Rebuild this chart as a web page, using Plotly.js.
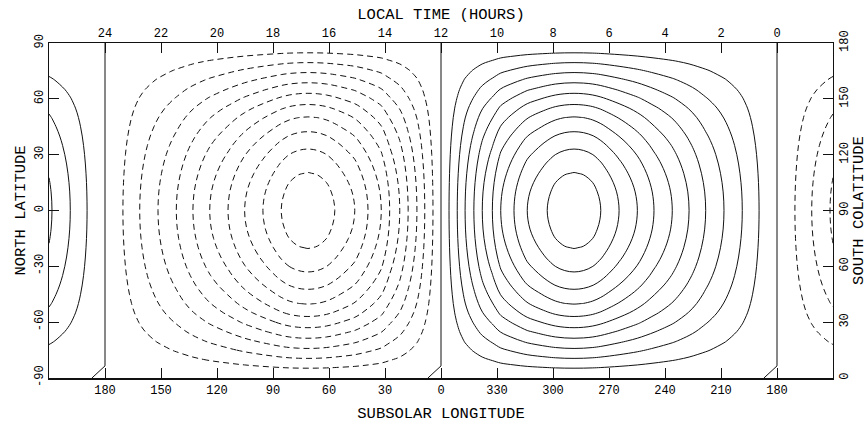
<!DOCTYPE html>
<html><head><meta charset="utf-8">
<script src="https://cdn.plot.ly/plotly-3.0.1.min.js"></script>
<style>html,body{margin:0;padding:0;background:#fff}#chart{width:868px;height:424px}</style>
</head><body><div id="chart"></div>
<script>
// Position along the plotted longitude axis, in degrees from the left edge
// (30 -> subsolar longitude 180, 210 -> longitude 0 / local noon, 390 -> longitude 180)
const axisPos = [0, 1.6, 11.4, 20.4, 30,
  39.6, 48.6, 58.4, 68.2, 77.1, 86.1, 95.9, 104.8, 114.6, 124.4, 128.7, 133.7, 138.7, 143.7, 148.7,
  153.1, 163.8, 170.9, 178, 182.5, 187.9, 192.4, 197.1, 201.3, 205.7, 210,
  214.3, 218.7, 222.9, 227.6, 232.1, 237.5, 242, 249.1, 256.2, 266.9, 271.3, 276.3, 281.3, 286.3, 291.3,
  295.6, 305.4, 315.2, 324.1, 333.9, 342.9, 351.8, 361.6, 371.4, 380.4, 390,
  399.6, 408.6, 418.4, 420];
// Contoured quantity along the equator (contour interval 1)
const equatorValue = [3.15, 3, 2, 1, 0,
  -1, -2, -3, -4, -5, -6, -7, -8, -9, -10, -10.35, -10.59, -10.67, -10.59, -10.35,
  -10, -9, -8, -7, -6, -5, -4, -3, -2, -1, 0,
  1, 2, 3, 4, 5, 6, 7, 8, 9, 10, 10.35, 10.59, 10.67, 10.59, 10.35,
  10, 9, 8, 7, 6, 5, 4, 3, 2, 1, 0,
  -1, -2, -3, -3.15];
const latitudes = [-90,-85,-80,-75,-70,-65,-60,-55,-50,-45,-40,-35,-30,-25,-20,-15,-10,-5,0,
  5,10,15,20,25,30,35,40,45,50,55,60,65,70,75,80,85,90];
// Relative strength of the pattern at each latitude (1 at the equator)
const latitudeFactor = [0,0.089,0.178,0.266,0.352,0.436,0.516,0.592,0.660,0.720,0.776,0.826,0.870,0.908,0.940,0.966,0.985,0.996,1,
  0.996,0.985,0.966,0.940,0.908,0.870,0.826,0.776,0.720,0.660,0.592,0.516,0.436,0.352,0.266,0.178,0.089,0];

const lonTickPos = [30,60,90,120,150,180,210,240,270,300,330,360,390];
const lonTickText = ["180","150","120","90","60","30","0","330","300","270","240","210","180"];
const localTimeText = ["24","22","20","18","16","14","12","10","8","6","4","2","0"];
const latTicks = [-90,-60,-30,0,30,60,90];
const colatTicks = [0,30,60,90,120,150,180];
// zero contour: meridians of subsolar longitude 180 / 0 / 180, with its small kink at the south pole
const zeroMeridians = [30,210,390];
const zeroPathOffset = [-7,0,0];
const zeroPathLat = [-90,-83.5,90];

const z = latitudeFactor.map(h => equatorValue.map(g => g*h));
const zx = [], zy = [];
zeroMeridians.forEach(m => {
  zeroPathOffset.forEach((o,k) => { zx.push(m+o); zy.push(zeroPathLat[k]); });
  zx.push(null); zy.push(null);
});

const ink = '#111';
const traces = [
  {type:'contour', x:axisPos, y:latitudes, z:z, autocontour:false,
   contours:{start:1,end:10,size:1,coloring:'none',showlabels:false},
   line:{color:ink,width:1,smoothing:1}, showscale:false, hoverinfo:'skip'},
  {type:'contour', x:axisPos, y:latitudes, z:z, autocontour:false,
   contours:{start:-10,end:-1,size:1,coloring:'none',showlabels:false},
   line:{color:ink,width:1,smoothing:1,dash:'6px,4px'}, showscale:false, hoverinfo:'skip'},
  {type:'scatter', mode:'lines', x:zx, y:zy, line:{color:ink,width:1}, hoverinfo:'skip'},
  {type:'scatter', mode:'markers', x:[0], y:[0], xaxis:'x2', yaxis:'y2', marker:{opacity:0}, hoverinfo:'skip'}
];

const axBase = {showgrid:false, zeroline:false, showline:true, linecolor:ink, ticks:'inside', ticklen:10,
  tickcolor:ink, tickwidth:1, tickmode:'array', tickfont:{size:12, color:'#000'}};
const layout = {
  width:868, height:424, margin:{l:49,r:35,t:43,b:46},
  paper_bgcolor:'#fff', plot_bgcolor:'#fff', showlegend:false,
  font:{family:'Liberation Mono, DejaVu Sans Mono, monospace', color:'#000', size:12},
  xaxis:Object.assign({}, axBase, {range:[0,420], tickvals:lonTickPos, ticktext:lonTickText, linewidth:1.5,
    title:{text:'SUBSOLAR LONGITUDE', font:{size:15.5}, standoff:10}}),
  xaxis2:Object.assign({}, axBase, {range:[0,420], tickvals:lonTickPos, ticktext:localTimeText, linewidth:1.5,
    overlaying:'x', side:'top', title:{text:'LOCAL TIME (HOURS)', font:{size:15.5}, standoff:3}}),
  yaxis:Object.assign({}, axBase, {range:[-90,90], tickvals:latTicks, ticktext:latTicks.map(String), tickangle:-90, linewidth:1,
    title:{text:'NORTH LATITUDE', font:{size:15.5}, standoff:3}}),
  yaxis2:Object.assign({}, axBase, {range:[0,180], tickvals:colatTicks, ticktext:colatTicks.map(String), tickangle:-90, linewidth:1,
    overlaying:'y', side:'right', title:{text:'SOUTH COLATITUDE', font:{size:15.5}, standoff:7}})
};
Plotly.newPlot('chart', traces, layout, {displayModeBar:false, staticPlot:true});
</script></body></html>
